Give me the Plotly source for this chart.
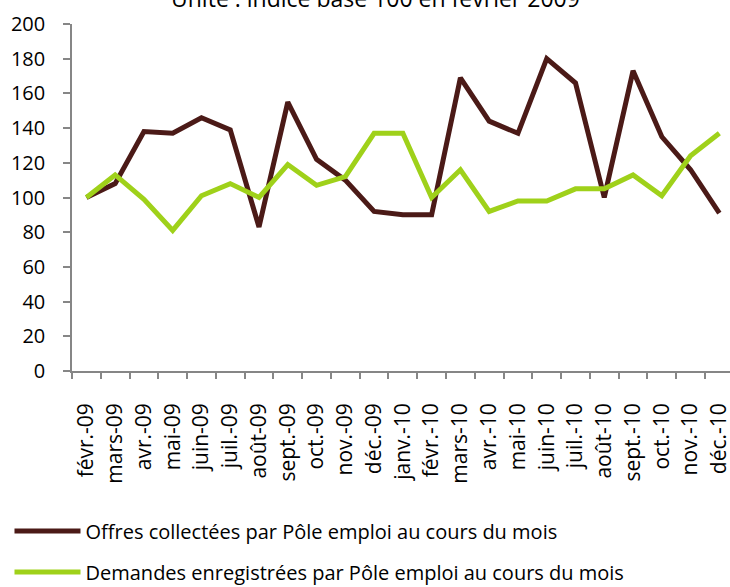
import plotly.graph_objects as go

months = ["févr.-09", "mars-09", "avr.-09", "mai-09", "juin-09", "juil.-09", "août-09",
          "sept.-09", "oct.-09", "nov.-09", "déc.-09", "janv.-10", "févr.-10", "mars-10",
          "avr.-10", "mai-10", "juin-10", "juil.-10", "août-10", "sept.-10", "oct.-10",
          "nov.-10", "déc.-10"]
offres = [100, 108, 138, 137, 146, 139, 83, 155, 122, 110, 92, 90, 90, 169, 144, 137,
          180, 166, 100, 173, 135, 116, 91]
demandes = [100, 113, 99, 81, 101, 108, 100, 119, 107, 112, 137, 137, 100, 116, 92, 98,
            98, 105, 105, 113, 101, 124, 137]
y_ticks = [0, 20, 40, 60, 80, 100, 120, 140, 160, 180, 200]

FONT = "Open Sans"
BROWN = "#4b1a17"
GREEN = "#9fd11a"
AXIS = "#868686"

fig = go.Figure()
fig.add_trace(go.Scatter(x=months, y=offres, mode="lines", name="Offres collectées par Pôle emploi au cours du mois",
                         line=dict(color=BROWN, width=5), legend="legend", showlegend=True))
fig.add_trace(go.Scatter(x=months, y=demandes, mode="lines", name="Demandes enregistrées par Pôle emploi au cours du mois",
                         line=dict(color=GREEN, width=5), legend="legend2", showlegend=True))

fig.update_layout(
    width=730, height=587,
    showlegend=True,
    margin=dict(l=72, r=0, t=24, b=216, autoexpand=False),
    paper_bgcolor="white", plot_bgcolor="white",
    font=dict(family=FONT, size=20, color="black"),
    xaxis=dict(type="category", range=[-0.5, 22.37], tickangle=-90, tickson="boundaries", dtick=1,
               ticks="outside", ticklen=6, tickcolor=AXIS, tickwidth=1.5, showline=True, linecolor=AXIS,
               linewidth=1.5, showgrid=False, automargin=False, ticklabelstandoff=22,
               tickfont=dict(family=FONT, size=21, color="black")),
    yaxis=dict(range=[0, 200], tickvals=y_ticks, ticks="outside", ticklen=7, tickcolor=AXIS, tickwidth=1.5,
               showline=True, linecolor=AXIS, linewidth=1.5, showgrid=False, zeroline=False,
               automargin=False, ticklabelstandoff=14,
               tickfont=dict(family=FONT, size=20, color="black")),
    legend=dict(x=-0.095, y=-0.461, xanchor="left", yanchor="middle", itemwidth=66, visible=True,
                font=dict(family=FONT, size=20, color="black"), bgcolor="rgba(0,0,0,0)"),
    legend2=dict(x=-0.095, y=-0.579, xanchor="left", yanchor="middle", itemwidth=66, visible=True,
                 font=dict(family=FONT, size=20, color="black"), bgcolor="rgba(0,0,0,0)"),
    annotations=[dict(text="Unité : indice base 100 en février 2009", xref="paper", yref="paper",
                      x=0.462, y=1.075, xanchor="center", yanchor="middle", showarrow=False,
                      font=dict(family=FONT, size=23, color="black"))],
)

fig.write_html("out.html", config={"displayModeBar": False},
               post_script="document.body.style.margin='0';")
